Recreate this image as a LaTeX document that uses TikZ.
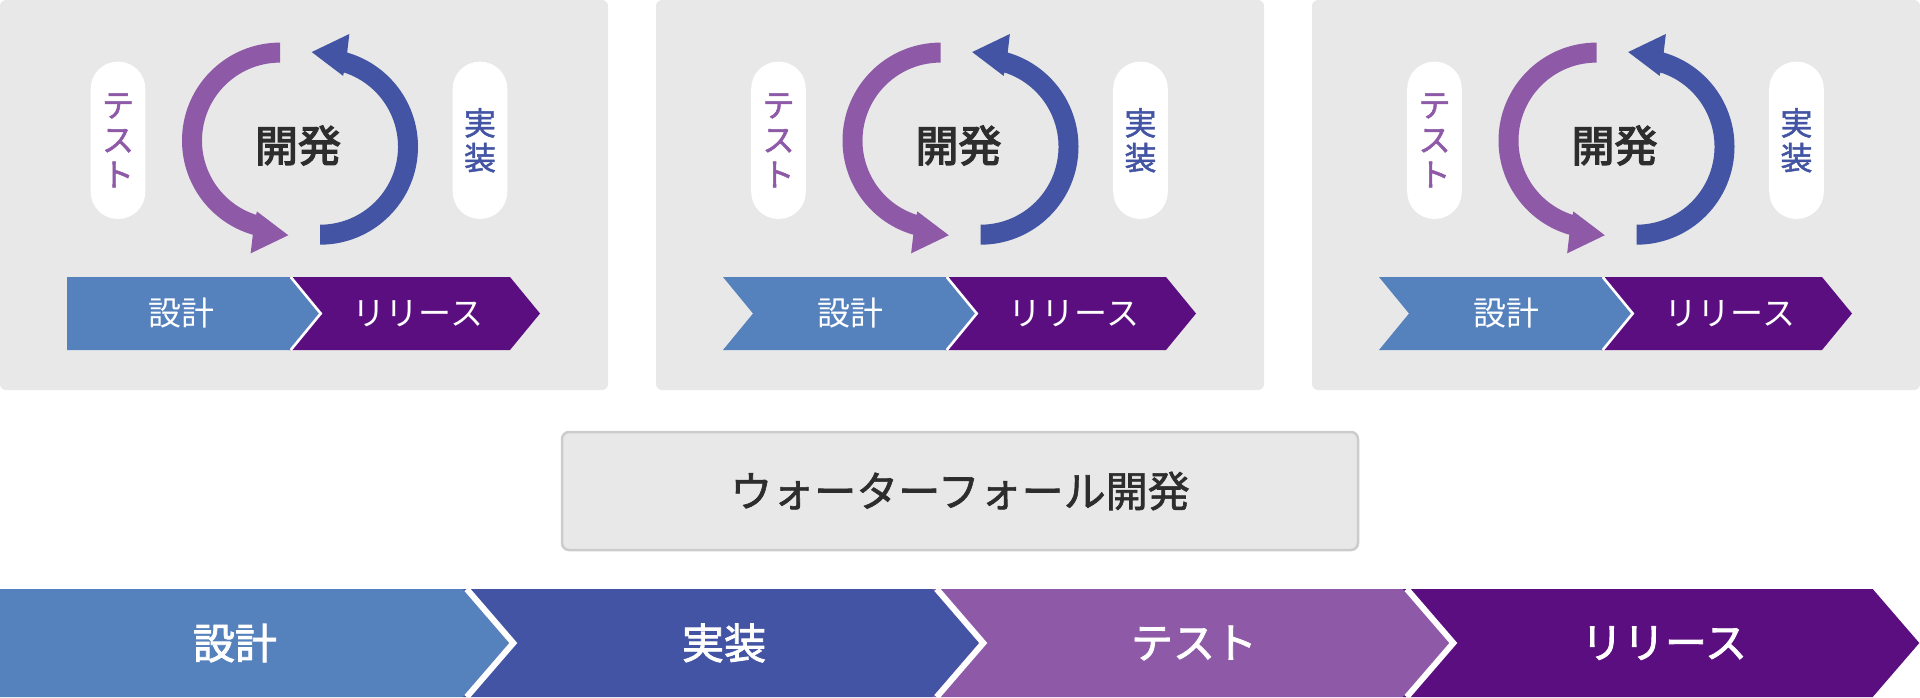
\documentclass[tikz,border=0pt]{standalone}
\usepackage{fontspec}
\setmainfont{Noto Sans CJK JP}
\newfontfamily\medA[FakeBold=1.5]{Noto Sans CJK JP}
\newfontfamily\medB[FakeBold=2]{Noto Sans CJK JP}
\newfontfamily\medC[FakeBold=3]{Noto Sans CJK JP}
\definecolor{cLB}{HTML}{5581BD}
\definecolor{cDB}{HTML}{4254A3}
\definecolor{cPU}{HTML}{8E5AA7}
\definecolor{cDP}{HTML}{5B0E7F}
\definecolor{cBG}{HTML}{E8E8E8}
\definecolor{cBD}{HTML}{CCCCCC}
\definecolor{cTX}{HTML}{2D2D2D}
\newcommand\cycarr[1]{\fill[#1] (270:98) arc[start angle=270,end angle=106.1,radius=98] -- (104.6:116.5) -- (85:95) -- (108.1:74.5) -- (107.8:78) arc[start angle=107.8,end angle=270,radius=78] -- cycle;}
\tikzset{
  pill/.style={fill=white, rounded corners=27pt, minimum width=54.6pt, minimum height=157.3pt, inner sep=0pt, align=center, font={\medA\fontsize{32}{34.7}\selectfont}},
  minilabel/.style={text=white, inner sep=0pt, font={\fontsize{33}{40}\selectfont}},
  biglabel/.style={text=white, inner sep=0pt, font={\medB\fontsize{42}{50}\selectfont}},
  centerlabel/.style={text=cTX, inner sep=0pt, font={\medC\fontsize{43}{50}\selectfont}},
  sep/.style={white, line join=miter}
}
\begin{document}
\begin{tikzpicture}[x=1pt,y=-1pt]
\useasboundingbox (0,0) rectangle (1920,697);
% ---------- three agile panels ----------
\foreach \pX/\sH/\nT [count=\i] in {0/0/0, 656/4.5/1, 1312/4.5/1} {
  \fill[cBG, rounded corners=6pt] (\pX,0) rectangle (\pX+608,390);
  % pills
  \node[pill, text=cPU] (test\i) at (\pX+\sH+118,140.3) {テ\\ス\\ト};
  \node[pill, text=cDB] (impl\i) at (\pX+\sH+480,140.3) {実\\装};
  % cycle arrows
  \begin{scope}[shift={(\pX+\sH+280,140.6)}]
    \cycarr{cPU}
  \end{scope}
  \begin{scope}[shift={(\pX+\sH+320,146.7)}, rotate=180]
    \cycarr{cDB}
  \end{scope}
  \node[centerlabel] (dev\i) at (\pX+\sH+298,145.5) {開発};
  % small chevrons
  \fill[cDP] (\pX+289,277) -- (\pX+510,277) -- (\pX+540,313.5) -- (\pX+510,350) -- (\pX+289,350) -- (\pX+319,313.5) -- cycle;
  \fill[cLB] (\pX+67,277) -- (\pX+289,277) -- (\pX+319,313.5) -- (\pX+289,350) -- (\pX+67,350) -- ({\pX+67+30*\nT},313.5) -- cycle;
  \begin{scope}
    \clip (\pX,277) rectangle (\pX+608,350);
    \draw[sep, line width=2.6pt] (\pX+290.7,277) -- (\pX+320.7,313.5) -- (\pX+290.7,350);
  \end{scope}
  \node[minilabel] (design\i) at ({\pX+181+13*\nT},313.5) {設計};
  \node[minilabel] (rel\i) at (\pX+418,313.5) {リリース};
}
% ---------- waterfall box ----------
\node[draw=cBD, line width=2.5pt, fill=cBG, rounded corners=7pt, minimum width=796pt, minimum height=118pt, text=cTX, font={\medA\fontsize{42}{50}\selectfont}] (wf) at (960,491) {ウォーターフォール開発};
% ---------- waterfall chevrons ----------
\fill[cLB] (0,589) -- (462.7,589) -- (509.3,643) -- (462.7,697) -- (0,697) -- cycle;
\fill[cDB] (462.7,589) -- (932.7,589) -- (979.3,643) -- (932.7,697) -- (462.7,697) -- (509.3,643) -- cycle;
\fill[cPU] (932.7,589) -- (1402.7,589) -- (1449.3,643) -- (1402.7,697) -- (932.7,697) -- (979.3,643) -- cycle;
\fill[cDP] (1402.7,589) -- (1872.7,589) -- (1919.3,643) -- (1872.7,697) -- (1402.7,697) -- (1449.3,643) -- cycle;
\begin{scope}
  \clip (0,589) rectangle (1920,697);
  \foreach \k in {0,1,2} {
    \draw[sep, line width=6pt] (470*\k+466.7,589) -- (470*\k+513.3,643) -- (470*\k+466.7,697);
  }
\end{scope}
\node[biglabel] (wdesign) at (235,643) {設計};
\node[biglabel] (wimpl) at (724,643) {実装};
\node[biglabel] (wtest) at (1194,643) {テスト};
\node[biglabel] (wrel) at (1664,643) {リリース};
\end{tikzpicture}
\end{document}
